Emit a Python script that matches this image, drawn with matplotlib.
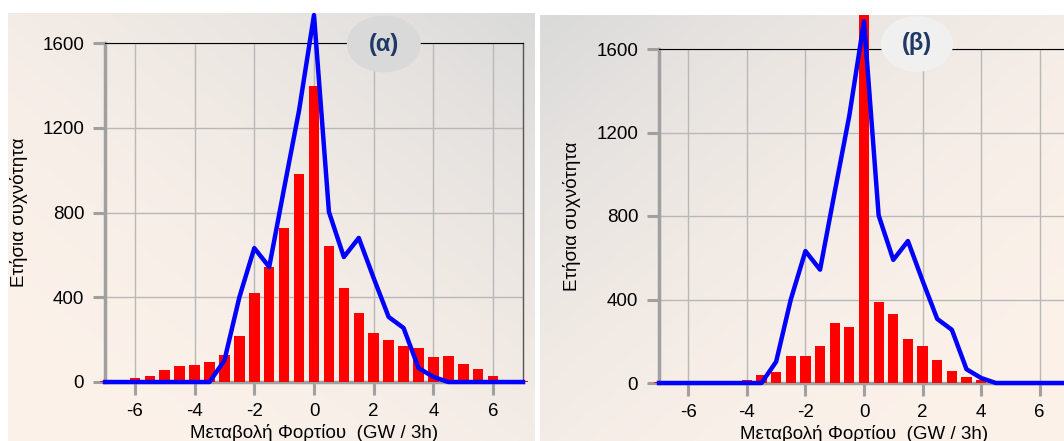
import numpy as np
import matplotlib
matplotlib.use('Agg')
import matplotlib.pyplot as plt
from matplotlib.patches import Ellipse

plt.rcParams['font.family'] = ['Liberation Sans', 'DejaVu Sans']

# bin centres, GW / 3h
x_bins = np.arange(-7, 7.01, 0.5)

# (α) annual frequency
bars_a = [4, 0, 17, 27, 58, 74, 79, 93, 129, 219, 420, 544, 727, 980, 1398,
          643, 444, 326, 231, 198, 170, 160, 118, 123, 85, 61, 30, 8, 4]
# (β) annual frequency
bars_b = [4, 0, 0, 0, 0, 0, 13, 37, 53, 128, 130, 176, 288, 267, 1765,
          386, 330, 213, 176, 112, 56, 29, 13, 0, 0, 0, 0, 0, 0]
# blue reference curve (same on both panels)
curve = [0, 0, 0, 0, 0, 0, 0, 0, 102, 400, 632, 543, 915, 1282, 1732,
         803, 590, 680, 490, 307, 255, 66, 24, 0, 0, 0, 0, 0, 0]

xticks = [-6, -4, -2, 0, 2, 4, 6]
yticks = [0, 400, 800, 1200, 1600]
ylabel = 'Ετήσια συχνότητα'
xlabel = 'Μεταβολή Φορτίου  (GW / 3h)'

W, H = 1064, 441
fig = plt.figure(figsize=(W / 100, H / 100), dpi=100)
fig.patch.set_facecolor('white')

peach = np.array([252, 242, 234]) / 255
grey = np.array([218, 218, 218]) / 255


def background(rect, flip):
    bg = fig.add_axes(rect, zorder=0)
    gx, gy = np.meshgrid(np.linspace(0, 1, 200), np.linspace(1, 0, 200))
    if flip:
        gx = 1 - gx
    t = np.clip((gx + gy) / 2, 0, 1) ** 2.0
    img = peach[None, None, :] * (1 - t[..., None]) + grey[None, None, :] * t[..., None]
    bg.imshow(img, aspect='auto', extent=(0, 1, 0, 1))
    bg.set_axis_off()


def panel(rect, bars, tag, tag_xy, tag_color, right_spine=True, lab_x=-0.206):
    ax = fig.add_axes(rect, zorder=2)
    ax.set_facecolor('none')
    ax.bar(x_bins, bars, width=0.35, color='#ff0000', zorder=3, clip_on=False)
    ax.plot(x_bins, curve, color='#0000ff', lw=3.2, zorder=4, clip_on=False)
    ax.set_xlim(-7, 7)
    ax.set_ylim(0, 1600)
    ax.set_xticks(xticks)
    ax.set_xticklabels([str(v) for v in xticks])
    ax.set_yticks(yticks)
    ax.grid(True, color='#b8b8b8', lw=1, zorder=1)
    ax.set_axisbelow(True)
    ax.tick_params(direction='out', length=9, width=2.2, color='#a0a0a0',
                   labelsize=13.5, pad=6)
    ax.spines['top'].set_color('black')
    ax.spines['top'].set_linewidth(0.8)
    ax.spines['right'].set_color('#555555')
    ax.spines['right'].set_linewidth(1)
    ax.spines['right'].set_visible(right_spine)
    for s in ('left', 'bottom'):
        ax.spines[s].set_color('#a0a0a0')
        ax.spines[s].set_linewidth(2.5)
    ax.set_xlabel(xlabel, fontsize=13.5, labelpad=3)
    ax.text(lab_x, 0.5, ylabel, rotation=90, ha='center', va='center',
            fontsize=13.5, transform=ax.transAxes)
    e = Ellipse(tag_xy, 0.177, 0.167, transform=ax.transAxes, facecolor=tag_color,
                edgecolor='none', zorder=6, clip_on=False)
    ax.add_patch(e)
    ax.text(tag_xy[0], tag_xy[1], tag, transform=ax.transAxes, ha='center', va='center',
            fontsize=17, fontweight='bold', color='#1f3864', zorder=7)
    return ax


background([8 / W, 0, 527 / W, (H - 13) / H], flip=False)
background([540 / W, 0, 524 / W, (H - 15) / H], flip=True)

panel([105 / W, 1 - 382 / H, 418 / W, 339 / H], bars_a, '(α)', (0.667, 0.997), '#d9d9d9',
      lab_x=-0.206)
panel([659 / W, 1 - 383 / H, 410 / W, 334 / H], bars_b, '(β)', (0.629, 1.015), '#f0f0f0',
      right_spine=False, lab_x=-0.212)

fig.savefig('out.png', dpi=100)
